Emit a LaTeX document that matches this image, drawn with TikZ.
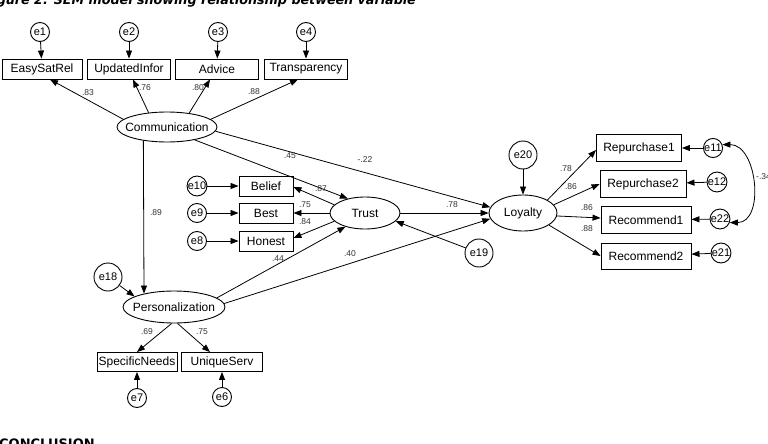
\documentclass[tikz,border=0pt]{standalone}
\usepackage{fontspec}
\setmainfont{Liberation Sans}
\newfontfamily\headfont{DejaVu Sans}
\usetikzlibrary{shapes.geometric,arrows.meta}
\tikzset{
  obs/.style={draw, rectangle, line width=0.9pt, inner sep=1pt, minimum height=20},
  lat/.style={draw, ellipse, line width=0.9pt, inner sep=0pt},
  err/.style={draw, circle, line width=0.9pt, inner sep=0pt, minimum size=19, font=\fontsize{11}{12}\selectfont},
  errbig/.style={err, minimum size=28},
  arr/.style={line width=0.8pt, -{Triangle[length=8pt,width=6pt]}},
  dbl/.style={line width=0.8pt, {Triangle[length=8pt,width=6pt]}-{Triangle[length=8pt,width=6pt]}},
  lab/.style={inner sep=0pt, font=\fontsize{8.5}{9}\selectfont, text=black!80},
}
\begin{document}
\begin{tikzpicture}[x=1pt, y=-1pt, font=\fontsize{12}{14}\selectfont]
\useasboundingbox (0,0) rectangle (768,444);
\fill[white] (0,0) rectangle (768,444);
% cropped title and heading
\node[anchor=base east, inner sep=0pt, font=\headfont\bfseries\itshape\fontsize{12.7}{14}\selectfont] (title) at (416,5) {Figure 2. SEM model showing relationship between variable};
\node[anchor=base west, inner sep=0pt, font=\headfont\bfseries\fontsize{13}{14}\selectfont] (concl) at (-1,448.5) {CONCLUSION};

% Communication block
\node[err] (e1) at (40,32) {e1};
\node[err] (e2) at (129,32) {e2};
\node[err] (e3) at (218,32) {e3};
\node[err] (e4) at (306,32) {e4};
\node[obs, minimum width=80] (EasySatRel) at (42,69) {EasySatRel};
\node[obs, minimum width=83] (UpdatedInfor) at (129,69) {UpdatedInfor};
\node[obs, minimum width=83] (Advice) at (217,69) {Advice};
\node[obs, minimum width=83] (Transparency) at (306,69) {Transparency};
\node[lat, minimum width=100, minimum height=30, label=center:Communication] (Comm) at (167,127) {};

% Personalization block
\node[lat, minimum width=102, minimum height=32, label=center:Personalization] (Pers) at (174,307) {};
\node[errbig] (e18) at (108,277) {e18};
\node[obs, minimum width=80, minimum height=19] (SpecificNeeds) at (137,362) {SpecificNeeds};
\node[obs, minimum width=81, minimum height=19] (UniqueServ) at (222,362) {UniqueServ};
\node[err] (e7) at (137,398) {e7};
\node[err] (e6) at (222,397) {e6};

% Trust block
\node[err] (e10) at (197,186) {e10};
\node[err] (e9) at (197,213) {e9};
\node[err] (e8) at (197,241) {e8};
\node[obs, minimum width=54] (Belief) at (266,186) {Belief};
\node[obs, minimum width=54] (Best) at (266,213) {Best};
\node[obs, minimum width=54] (Honest) at (266,241) {Honest};
\node[lat, minimum width=70, minimum height=32, label=center:Trust] (Trust) at (365,213) {};
\node[errbig] (e19) at (479,253) {e19};

% Loyalty block
\node[errbig] (e20) at (523,155) {e20};
\node[lat, minimum width=68, minimum height=36, label=center:Loyalty] (Loyalty) at (523,213) {};
\node[obs, minimum width=85, minimum height=27] (Rep1) at (639,148) {Repurchase1};
\node[obs, minimum width=86, minimum height=27] (Rep2) at (643,184) {Repurchase2};
\node[obs, minimum width=90, minimum height=27] (Rec1) at (646,220) {Recommend1};
\node[obs, minimum width=90, minimum height=26] (Rec2) at (646,256) {Recommend2};
\node[err] (e11) at (713,148) {e11};
\node[err] (e12) at (717,182) {e12};
\node[err] (e22) at (720,219) {e22};
\node[err] (e21) at (721,253) {e21};

% error arrows
\draw[arr] (e1) -- (EasySatRel);
\draw[arr] (e2) -- (UpdatedInfor);
\draw[arr] (e3) -- (Advice);
\draw[arr] (e4) -- (Transparency);
\draw[arr] (e7) -- (SpecificNeeds);
\draw[arr] (e6) -- (UniqueServ);
\draw[arr] (e10) -- (Belief);
\draw[arr] (e9) -- (Best);
\draw[arr] (e8) -- (Honest);
\draw[arr] (e18) -- (Pers.165);
\draw[arr] (e19) -- (Trust.-15);
\draw[arr] (e20) -- (Loyalty);
\draw[arr] (e11) -- (Rep1);
\draw[arr] (e12) -- (Rep2);
\draw[arr] (e22) -- (Rec1);
\draw[arr] (e21) -- (Rec2);
\draw[dbl] (e11.20) to[out=0, in=0, looseness=1.15] (e22.-20);

% loadings
\draw[arr] (Comm.170) -- ([xshift=8]EasySatRel.south);
\draw[arr] (Comm.142) -- ([xshift=4]UpdatedInfor.south);
\draw[arr] (Comm.32) -- ([xshift=-7]Advice.south);
\draw[arr] (Comm.10) -- ([xshift=-8]Transparency.south);
\draw[arr] (Pers.262) -- (SpecificNeeds.north);
\draw[arr] (Pers.282) -- ([xshift=-12]UniqueServ.north);
\draw[arr] (Trust.165) -- ([yshift=-1]Belief.east);
\draw[arr] (Trust.west) -- (Best.east);
\draw[arr] (Trust.195) -- ([yshift=3]Honest.east);
\draw[arr] (Loyalty.28) -- ([yshift=-2]Rep1.west);
\draw[arr] (Loyalty.15) -- (Rep2.west);
\draw[arr] (Loyalty.-5) -- ([yshift=2]Rec1.west);
\draw[arr] (Loyalty.-25) -- (Rec2.west);

% structural paths
\draw[arr] (Comm.210) -- ([xshift=-30,yshift=-3]Pers.north);
\draw[arr] (Comm.-25) -- (Trust.140);
\draw[arr] (Comm.-5) -- (Loyalty.170);
\draw[arr] (Pers.12) -- (Trust.215);
\draw[arr] (Pers.4) -- (Loyalty.190);
\draw[arr] (Trust.east) -- (Loyalty.west);

% coefficient labels
\node[lab] (l1) at (88,93) {.83};
\node[lab] (l2) at (145,88) {.76};
\node[lab] (l3) at (198,88) {.80};
\node[lab] (l4) at (254,92) {.88};
\node[lab] (l5) at (156,213) {.89};
\node[lab] (l6) at (290,156) {.45};
\node[lab] (l7) at (365,160) {-.22};
\node[lab] (l8) at (321,189) {.87};
\node[lab] (l9) at (305,205) {.75};
\node[lab] (l10) at (305,222) {.84};
\node[lab] (l11) at (278,259) {.44};
\node[lab] (l12) at (350,254) {.40};
\node[lab] (l13) at (452,205) {.78};
\node[lab] (l14) at (147,332) {.69};
\node[lab] (l15) at (202,332) {.75};
\node[lab] (l16) at (566,169) {.78};
\node[lab] (l17) at (571,187) {.86};
\node[lab] (l18) at (587,208) {.86};
\node[lab] (l19) at (587,229) {.88};
\node[lab, anchor=west] (l20) at (756,177) {-.34};
\end{tikzpicture}
\end{document}
